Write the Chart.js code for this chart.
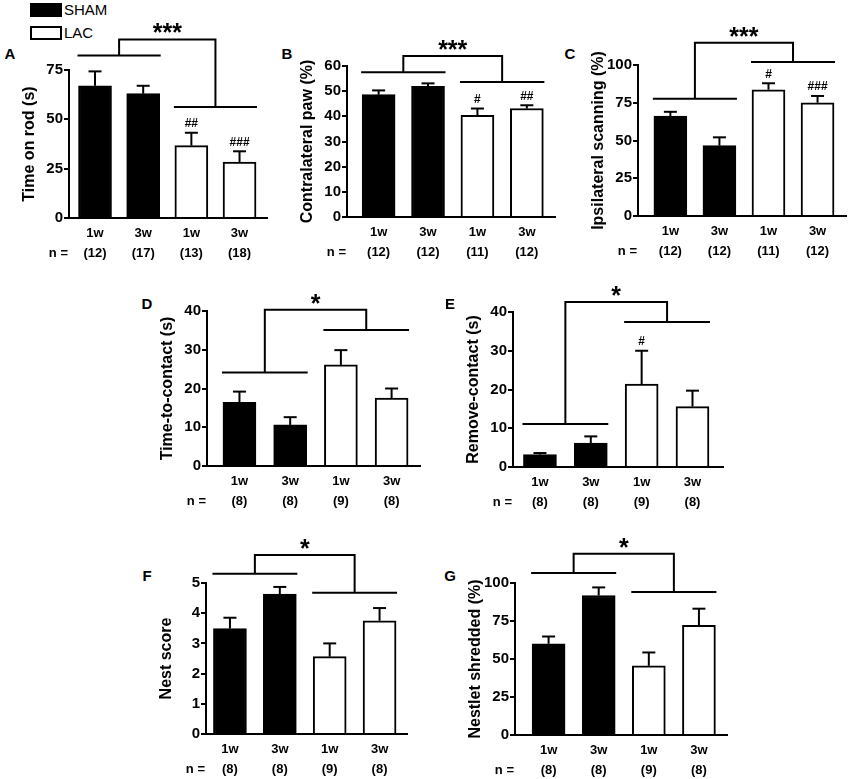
<!DOCTYPE html>
<html>
<head>
<meta charset="utf-8">
<script src="https://cdn.jsdelivr.net/npm/chart.js@4"></script>
<style>
body { margin: 0; background: #fff; overflow: hidden; }
#fig { position: relative; width: 850px; height: 779px; font-family: "Liberation Sans", Arial, sans-serif; color: #000; }
canvas { position: absolute; }
.lbl { position: absolute; font-weight: bold; font-size: 15px; transform: translate(-50%, -50%); }
.key { position: absolute; left: 30px; width: 32px; height: 14px; box-sizing: border-box; border: 2px solid #000; }
.keytxt { position: absolute; left: 64px; font-size: 15px; line-height: 18px; }
</style>
</head>
<body>
<div id="fig">
  <div class="key" style="top:3px; background:#000"></div>
  <div class="keytxt" style="top:1px">SHAM</div>
  <div class="key" style="top:26px; background:#fff"></div>
  <div class="keytxt" style="top:24px">LAC</div>
</div>
<script>
const groups = ['1w', '3w', '1w', '3w'];
const panels = ['A', 'B', 'C', 'D', 'E', 'F', 'G'];
const yTitles = ['Time on rod (s)', 'Contralateral paw (%)', 'Ipsilateral scanning (%)',
  'Time-to-contact (s)', 'Remove-contact (s)', 'Nest score', 'Nestlet shredded (%)'];
const yMax = [75, 60, 100, 40, 40, 5, 100];
const yStep = [25, 10, 25, 10, 10, 1, 25];

const means = [
  [67, 63, 36.7, 28.4],
  [48.6, 51.9, 40.4, 43.1],
  [66.2, 46.6, 83.6, 75],
  [16.4, 10.6, 26.1, 17.5],
  [3.2, 6.2, 21.4, 15.6],
  [3.49, 4.63, 2.56, 3.75],
  [60, 91.8, 45.5, 72.1]
];
const sems = [
  [7.3, 4, 6.5, 5.4],
  [1.7, 1.2, 2.7, 1.3],
  [2.8, 5.5, 4.3, 4.5],
  [2.8, 2, 3.8, 2.5],
  [0.4, 1.7, 8.6, 4.1],
  [0.36, 0.24, 0.44, 0.42],
  [4.8, 5.3, 8.8, 11]
];
const ns = [
  [12, 17, 13, 18],
  [12, 12, 11, 12],
  [12, 12, 11, 12],
  [8, 8, 9, 8],
  [8, 8, 9, 8],
  [8, 8, 9, 8],
  [8, 8, 9, 8]
];
const hashes = [
  ['', '', '##', '###'],
  ['', '', '#', '##'],
  ['', '', '#', '###'],
  ['', '', '', ''],
  ['', '', '#', ''],
  ['', '', '', ''],
  ['', '', '', '']
];
const stars = ['***', '***', '***', '*', '*', '*', '*'];
// heights of the significance brackets, in axis units
const shamLine = [82.3, 57.5, 77.7, 24.1, 11.1, 5.31, 106.6];
const lacLine = [56.3, 53.6, 102, 35.1, 37.4, 4.68, 94.1];
const topLine = [90.5, 64, 114.8, 40.3, 42.6, 5.93, 119.2];

// where each plot area sits on the page, and x padding (in bar slots)
const boxes = [
  {l: 69, r: 267, t: 70, b: 218, pl: 0.54, pr: 0.57, lx: 10, ly: 53},
  {l: 347, r: 555, t: 66, b: 217, pl: 0.64, pr: 0.57, lx: 287, ly: 53},
  {l: 638, r: 846, t: 65, b: 216, pl: 0.66, pr: 0.58, lx: 570, ly: 53},
  {l: 207, r: 420, t: 311, b: 466, pl: 0.64, pr: 0.56, lx: 147, ly: 303},
  {l: 513, r: 723, t: 312, b: 467, pl: 0.53, pr: 0.6, lx: 450, ly: 303},
  {l: 206, r: 407, t: 583, b: 734, pl: 0.48, pr: 0.55, lx: 147, ly: 575},
  {l: 515, r: 727, t: 583, b: 735, pl: 0.67, pr: 0.56, lx: 450, ly: 575}
];

const FONT = '"Liberation Sans", Arial, sans-serif';
const AXW = 70, TOP = 85, BOT = 45, RP = 4;

function seg(ctx, x1, y1, x2, y2) {
  ctx.beginPath();
  ctx.moveTo(x1, y1);
  ctx.lineTo(x2, y2);
  ctx.stroke();
}

const marks = {
  id: 'marks',
  afterDraw(chart, args, o) {
    const i = o.i;
    const ctx = chart.ctx;
    const y = chart.scales.y;
    const area = chart.chartArea;
    const bars = chart.getDatasetMeta(0).data;
    ctx.save();
    ctx.strokeStyle = '#000';
    ctx.fillStyle = '#000';
    ctx.lineWidth = 2;
    ctx.textAlign = 'center';

    // error bars (upper half) and # marks
    bars.forEach((b, k) => {
      const top = y.getPixelForValue(means[i][k] + sems[i][k]);
      seg(ctx, b.x, b.y, b.x, top);
      seg(ctx, b.x - 6.5, top, b.x + 6.5, top);
      if (hashes[i][k]) {
        ctx.font = 'bold 12px ' + FONT;
        ctx.textBaseline = 'bottom';
        ctx.fillText(hashes[i][k], b.x, top - 3);
      }
    });

    // brackets
    const half = bars[0].width / 2;
    const ys = y.getPixelForValue(shamLine[i]);
    const yl = y.getPixelForValue(lacLine[i]);
    const yt = y.getPixelForValue(topLine[i]);
    const ms = (bars[0].x + bars[1].x) / 2;
    const ml = (bars[2].x + bars[3].x) / 2;
    seg(ctx, bars[0].x - half - 1, ys, bars[1].x + half + 1, ys);
    seg(ctx, bars[2].x - half - 1, yl, bars[3].x + half + 1, yl);
    ctx.beginPath();
    ctx.moveTo(ms, ys);
    ctx.lineTo(ms, yt);
    ctx.lineTo(ml, yt);
    ctx.lineTo(ml, yl);
    ctx.stroke();
    ctx.font = 'bold 25px ' + FONT;
    ctx.textBaseline = 'alphabetic';
    ctx.fillText(stars[i], (ms + ml) / 2, yt + 2);

    // "n =" row label
    ctx.font = 'bold 13px ' + FONT;
    ctx.textAlign = 'right';
    ctx.textBaseline = 'middle';
    ctx.fillText('n =', area.left - 1, area.bottom + 35);
    ctx.restore();
  }
};

const fig = document.getElementById('fig');

panels.forEach((p, i) => {
  const bx = boxes[i];
  const lbl = document.createElement('div');
  lbl.className = 'lbl';
  lbl.style.left = bx.lx + 'px';
  lbl.style.top = bx.ly + 'px';
  lbl.textContent = p;
  fig.appendChild(lbl);

  const c = document.createElement('canvas');
  c.width = bx.r - bx.l + AXW + RP;
  c.height = bx.b - bx.t + TOP + BOT;
  c.style.left = (bx.l - AXW) + 'px';
  c.style.top = (bx.t - TOP) + 'px';
  fig.appendChild(c);

  new Chart(c.getContext('2d'), {
    type: 'bar',
    data: {
      datasets: [{
        data: means[i].map((v, k) => ({x: k, y: v})),
        backgroundColor: ['#000', '#000', '#fff', '#fff'],
        borderColor: '#000',
        borderWidth: 2,
        barThickness: 33
      }]
    },
    options: {
      responsive: false,
      animation: false,
      layout: {padding: {left: 0, right: RP, top: TOP, bottom: 0}},
      plugins: {
        legend: {display: false},
        tooltip: {enabled: false},
        marks: {i: i}
      },
      scales: {
        x: {
          type: 'linear',
          offset: false,
          min: -bx.pl,
          max: 3 + bx.pr,
          afterBuildTicks: s => { s.ticks = groups.map((g, k) => ({value: k})); },
          afterFit: s => { s.height = BOT; s.paddingLeft = 0; s.paddingRight = 0; },
          grid: {display: false, drawTicks: false, offset: false},
          border: {color: '#000', width: 2},
          ticks: {
            padding: 5,
            color: '#000',
            autoSkip: false,
            maxRotation: 0,
            font: {family: FONT, size: 13, weight: 'bold', lineHeight: 1.55},
            callback: v => [groups[v], '(' + ns[i][v] + ')']
          }
        },
        y: {
          min: 0,
          max: yMax[i],
          afterFit: s => { s.width = AXW; s.paddingTop = 0; s.paddingBottom = 0; },
          grid: {drawOnChartArea: false, drawTicks: true, tickLength: 5, lineWidth: 2, color: '#000'},
          border: {color: '#000', width: 2},
          ticks: {
            stepSize: yStep[i],
            padding: 1,
            color: '#000',
            font: {family: FONT, size: 15, weight: 'bold'}
          },
          title: {
            display: true,
            text: yTitles[i],
            color: '#000',
            font: {family: FONT, size: 16, weight: 'bold'},
            padding: {top: 21, bottom: 0}
          }
        }
      }
    },
    plugins: [marks]
  });
});
</script>
</body>
</html>
